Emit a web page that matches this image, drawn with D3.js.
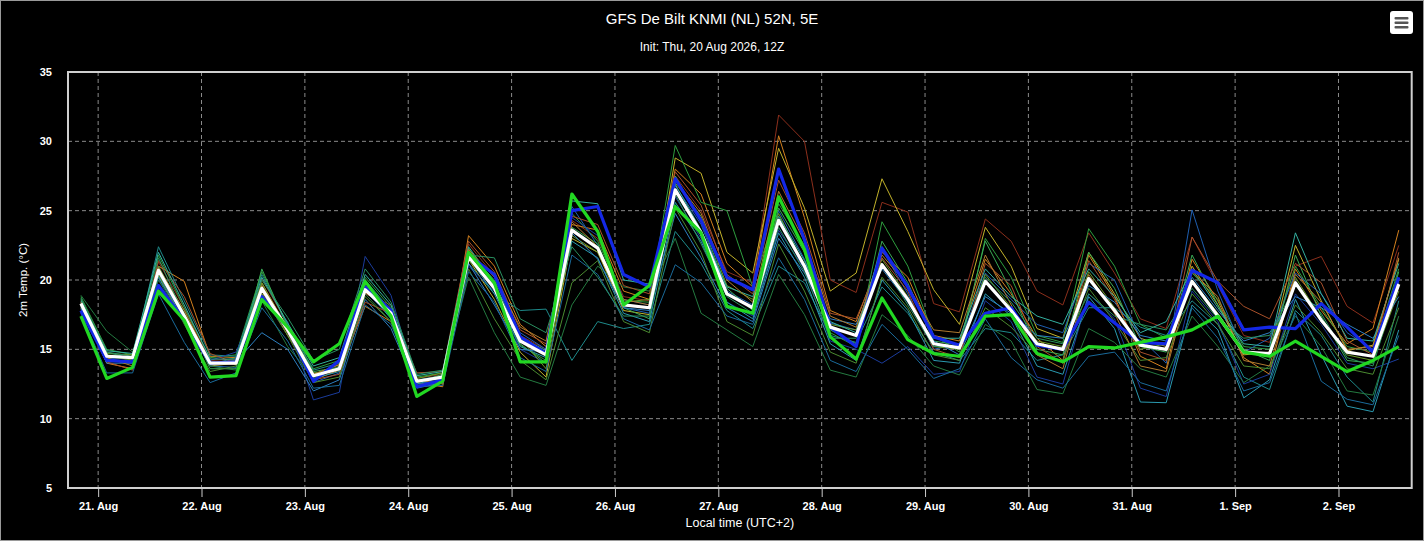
<!DOCTYPE html>
<html>
<head>
<meta charset="utf-8">
<script src="https://cdn.jsdelivr.net/npm/d3@7"></script>
<style>
    html, body { margin: 0; padding: 0; background: #000; }
    svg { display: block; }
</style>
</head>
<body>
<svg id="chart" width="1424" height="541"></svg>
<script>
// 6-hourly steps, first step = 20 Aug 20:00 local (UTC+2)
const firstStep = Date.UTC(2026, 7, 20, 20);
const stepCount = 52;

const yTicks = [5, 10, 15, 20, 25, 30, 35];

// ensemble mean
const meanSeries = [18.3,
    14.5, 14.4, 20.7, 17.4, 14.0, 14.0, 19.4, 16.4, 13.1, 13.6, 19.3, 17.6,
    12.7, 13.0, 21.7, 19.4, 15.6, 14.6, 23.6, 22.3, 18.2, 18.0, 26.5, 23.4,
    19.0, 18.0, 24.3, 21.0, 16.6, 16.0, 21.1, 18.6, 15.4, 15.1, 19.9, 17.8,
    15.4, 15.0, 20.1, 17.8, 15.3, 15.0, 19.9, 17.4, 14.8, 14.7, 19.8, 17.1,
    14.8, 14.5, 19.7];

// control run
const controlSeries = [17.8,
    14.2, 14.1, 19.6, 17.1, 14.0, 14.1, 18.8, 16.5, 12.7, 14.2, 19.5, 17.8,
    12.3, 12.8, 21.8, 20.4, 15.9, 14.7, 25.0, 25.3, 20.4, 19.5, 27.3, 24.3,
    20.2, 19.3, 28.0, 22.9, 16.6, 15.2, 22.3, 19.5, 15.9, 15.3, 17.6, 18.0,
    15.3, 15.0, 18.4, 16.9, 15.5, 15.4, 20.7, 19.8, 16.4, 16.6, 16.5, 18.3,
    16.6, 14.8, 20.2];

// operational run
const operSeries = [17.4,
    12.9, 13.7, 19.2, 17.1, 13.0, 13.1, 18.6, 16.6, 14.1, 15.4, 19.9, 17.4,
    11.6, 12.7, 22.0, 19.8, 14.1, 14.1, 26.2, 23.5, 18.2, 19.6, 25.3, 23.4,
    18.1, 17.6, 26.0, 22.2, 15.9, 14.3, 18.7, 15.7, 14.7, 14.5, 17.4, 17.5,
    14.7, 14.1, 15.2, 15.1, 15.5, 15.9, 16.4, 17.4, 14.8, 14.5, 15.6, 14.5,
    13.4, 14.2, 15.2];

const memberColors = ['#8c2f1c', '#d4801e', '#c2b22a', '#2e9e3e', '#1e8a8a', '#1f5fb0',
    '#1b3c9c', '#3aaa55', '#2a9ab0', '#6a9a2a', '#247a40', '#2d7fc0',
    '#a8502a', '#34b0a0', '#4a8a30', '#1a6a9a', '#b07a30', '#2a9060'];

const members = [
    [18.5, 14.2, 14.0, 21.3, 18.0, 14.2, 14.3, 20.1, 16.8, 13.0, 13.8, 19.0, 18.2, 12.9, 13.2, 22.6, 20.3, 16.0, 15.0, 24.3, 23.0, 18.8, 18.5, 27.5, 25.0, 20.6, 19.8, 31.9, 30.0, 20.0, 19.1, 25.6, 24.9, 18.3, 17.7, 24.4, 22.8, 19.2, 18.2, 23.4, 20.5, 17.2, 16.5, 23.1, 19.6, 16.0, 15.5, 21.0, 21.7, 18.1, 16.9, 22.5],
    [18.0, 14.0, 13.6, 21.0, 19.9, 14.5, 14.4, 19.8, 16.5, 12.8, 13.5, 18.1, 17.0, 12.6, 12.3, 23.2, 21.0, 16.8, 15.2, 24.0, 23.6, 19.2, 18.6, 28.0, 26.2, 21.2, 19.5, 30.4, 24.5, 17.8, 17.0, 22.0, 20.2, 16.0, 15.6, 21.5, 19.0, 15.8, 14.2, 21.8, 18.8, 14.5, 13.6, 21.5, 18.5, 14.4, 13.2, 20.8, 17.8, 15.4, 16.5, 23.6],
    [18.2, 14.6, 14.2, 20.3, 17.0, 13.8, 14.0, 19.2, 16.0, 13.2, 13.9, 19.6, 17.4, 12.8, 12.9, 21.5, 18.6, 14.8, 13.0, 23.0, 22.0, 17.8, 17.5, 28.8, 27.7, 22.0, 20.5, 29.5, 25.2, 19.2, 20.5, 27.3, 23.5, 19.3, 16.8, 23.8, 21.0, 16.5, 15.8, 22.0, 19.0, 15.8, 15.2, 21.0, 18.2, 14.6, 14.8, 22.5, 18.5, 14.9, 15.3, 21.5],
    [18.8, 15.0, 14.6, 21.8, 18.0, 14.4, 14.6, 20.6, 16.7, 13.6, 14.2, 20.2, 18.0, 13.0, 13.3, 22.3, 19.6, 15.3, 14.2, 24.8, 22.8, 18.5, 18.4, 29.7, 25.6, 25.0, 19.5, 25.5, 22.5, 16.2, 15.2, 24.2, 21.0, 16.0, 14.8, 23.0, 20.2, 16.0, 15.5, 23.7, 21.0, 16.8, 15.8, 20.5, 18.6, 15.2, 15.0, 21.0, 18.0, 15.2, 14.8, 20.8],
    [18.4, 14.8, 14.3, 22.4, 18.5, 14.6, 14.5, 20.4, 16.8, 13.5, 14.0, 20.0, 17.8, 12.8, 13.1, 21.2, 19.0, 17.8, 17.9, 14.2, 17.0, 16.5, 16.8, 23.5, 21.2, 17.8, 16.5, 21.0, 19.8, 16.0, 15.5, 19.5, 17.6, 14.8, 14.2, 16.5, 16.2, 14.2, 14.6, 18.0, 18.0, 16.6, 16.0, 18.5, 16.8, 13.0, 12.1, 17.8, 16.0, 13.0, 11.2, 18.5],
    [17.9, 14.3, 14.5, 20.5, 17.2, 13.8, 13.7, 19.5, 16.6, 12.6, 13.3, 19.2, 17.3, 12.5, 12.8, 22.0, 20.0, 16.2, 15.0, 25.3, 22.5, 18.0, 17.6, 26.8, 24.0, 19.2, 18.2, 25.0, 21.5, 16.9, 16.4, 22.2, 19.0, 15.0, 15.4, 20.5, 18.6, 16.8, 16.2, 21.2, 20.0, 15.8, 14.0, 25.05, 19.2, 14.8, 15.8, 20.5, 19.0, 16.2, 15.0, 19.8],
    [18.0, 14.4, 14.4, 20.0, 17.5, 14.2, 14.8, 19.0, 17.0, 11.35, 11.9, 21.7, 18.9, 12.4, 12.6, 21.0, 19.2, 15.0, 14.0, 24.5, 23.2, 18.6, 18.2, 26.0, 23.0, 18.4, 17.4, 23.6, 20.8, 15.6, 15.0, 14.0, 15.2, 13.2, 13.4, 18.5, 17.0, 13.0, 12.5, 19.0, 17.2, 12.2, 11.6, 19.2, 17.0, 12.5, 13.2, 19.0, 16.8, 14.0, 13.6, 14.3],
    [18.6, 14.6, 14.4, 21.0, 17.6, 13.6, 13.6, 20.8, 16.6, 13.4, 13.7, 19.8, 17.8, 12.6, 13.2, 22.0, 19.6, 15.4, 14.0, 23.8, 22.6, 18.0, 17.2, 27.5, 24.2, 19.4, 17.8, 25.2, 22.0, 16.4, 15.4, 22.8, 19.8, 15.6, 15.3, 22.8, 19.2, 15.0, 14.6, 22.0, 19.4, 15.2, 14.8, 21.8, 18.2, 15.0, 14.2, 21.8, 17.4, 14.2, 14.0, 20.6],
    [18.1, 14.3, 14.1, 20.2, 17.0, 13.9, 14.2, 19.6, 16.2, 12.9, 13.4, 19.4, 17.2, 12.5, 13.0, 21.6, 19.0, 15.2, 14.4, 22.8, 21.6, 17.6, 17.0, 25.6, 22.8, 18.4, 17.2, 23.4, 20.2, 15.4, 14.2, 20.0, 17.8, 14.2, 14.0, 19.0, 17.4, 13.8, 13.2, 18.8, 16.5, 11.2, 11.15, 18.2, 16.4, 11.5, 12.8, 18.6, 14.6, 10.9, 10.5, 16.4],
    [18.3, 14.7, 14.6, 20.8, 17.8, 14.0, 14.2, 19.8, 16.4, 13.3, 13.5, 19.2, 17.7, 12.9, 13.3, 21.4, 19.5, 15.8, 13.6, 23.2, 22.0, 18.4, 18.6, 27.0, 24.6, 19.6, 18.6, 24.8, 21.0, 16.8, 16.4, 21.5, 18.8, 15.2, 15.0, 20.4, 18.0, 15.6, 15.2, 20.6, 18.0, 15.0, 15.4, 20.0, 17.6, 14.9, 14.5, 20.2, 17.2, 14.6, 14.2, 19.2],
    [18.9, 16.3, 14.8, 20.0, 17.0, 13.8, 13.5, 18.5, 15.2, 12.9, 13.8, 19.0, 17.0, 12.7, 13.1, 20.2, 16.2, 13.0, 12.4, 18.2, 21.0, 19.5, 19.2, 23.0, 17.6, 16.4, 15.2, 20.4, 17.5, 13.5, 13.0, 17.5, 16.0, 13.8, 13.15, 16.8, 15.6, 12.1, 11.8, 16.5, 15.5, 13.6, 13.0, 17.4, 15.2, 12.6, 13.8, 17.4, 15.2, 12.0, 11.7, 17.4],
    [18.0, 14.0, 14.0, 20.4, 17.0, 14.0, 14.1, 16.2, 15.0, 12.0, 12.8, 18.6, 16.5, 12.2, 12.6, 21.2, 18.2, 15.0, 14.8, 23.4, 21.5, 18.0, 17.8, 24.8, 21.6, 18.0, 17.0, 23.0, 20.5, 17.2, 16.8, 20.8, 18.4, 15.6, 14.6, 18.8, 17.6, 16.0, 15.8, 19.6, 18.4, 16.0, 15.6, 20.2, 17.8, 15.6, 16.2, 18.8, 18.0, 16.8, 15.8, 18.8],
    [18.2, 14.1, 13.5, 21.4, 18.8, 14.7, 14.0, 19.0, 16.2, 12.8, 13.2, 18.4, 17.6, 13.3, 13.4, 22.8, 20.6, 16.4, 15.4, 24.6, 24.0, 19.6, 19.0, 27.8, 25.4, 20.4, 19.0, 27.2, 23.4, 17.6, 17.2, 21.6, 19.2, 15.0, 14.4, 21.2, 19.6, 15.2, 14.0, 21.4, 18.6, 14.8, 14.2, 23.1, 19.9, 18.1, 17.2, 21.2, 19.8, 15.6, 14.6, 22.0],
    [18.5, 14.9, 14.7, 22.0, 18.2, 14.3, 14.3, 20.2, 16.9, 13.8, 14.4, 20.4, 18.2, 13.1, 13.4, 22.4, 19.8, 15.9, 14.9, 25.7, 25.5, 20.0, 19.7, 26.9, 23.6, 19.5, 18.8, 24.6, 21.4, 17.0, 16.2, 22.4, 19.4, 15.8, 15.8, 20.8, 18.8, 17.4, 16.8, 20.8, 18.8, 16.2, 17.0, 20.8, 18.0, 15.4, 15.2, 23.4, 19.0, 15.8, 15.6, 21.2],
    [18.1, 14.5, 14.2, 20.4, 16.8, 13.4, 13.8, 19.0, 16.0, 12.6, 13.0, 18.8, 17.0, 12.4, 12.7, 20.8, 17.2, 14.2, 12.8, 19.8, 21.4, 17.0, 16.2, 25.2, 22.0, 17.0, 16.0, 22.6, 19.2, 14.8, 14.0, 20.2, 18.0, 14.6, 14.2, 18.0, 16.6, 14.6, 14.2, 19.4, 17.0, 14.2, 14.4, 19.0, 16.8, 13.8, 13.6, 18.2, 16.2, 13.6, 13.2, 18.0],
    [17.6, 13.3, 13.3, 19.0, 15.5, 12.6, 13.3, 18.0, 15.6, 12.2, 12.4, 18.2, 16.8, 12.3, 12.4, 20.6, 18.4, 14.4, 13.4, 21.8, 20.4, 17.2, 16.4, 21.1, 19.8, 17.4, 16.8, 21.6, 18.6, 14.2, 13.4, 16.8, 15.0, 12.9, 13.6, 17.2, 14.4, 12.8, 12.2, 14.5, 14.8, 12.6, 12.0, 18.0, 15.8, 12.0, 12.6, 17.6, 12.7, 11.4, 11.0, 16.0],
    [18.4, 14.4, 13.8, 20.9, 17.8, 14.1, 13.9, 19.6, 16.6, 13.2, 13.9, 19.1, 17.9, 12.8, 12.5, 22.2, 20.2, 16.6, 15.6, 24.2, 22.4, 18.6, 18.2, 27.2, 24.8, 20.0, 18.4, 26.4, 22.8, 17.4, 16.6, 21.8, 19.6, 16.4, 16.2, 21.8, 18.2, 14.6, 13.6, 20.4, 17.6, 13.8, 13.4, 20.6, 18.8, 14.2, 13.8, 20.4, 18.4, 15.0, 15.2, 21.6],
    [18.7, 14.8, 14.5, 21.6, 17.4, 13.9, 14.4, 20.0, 17.3, 14.2, 15.0, 20.8, 18.4, 13.2, 13.5, 21.8, 21.6, 17.2, 16.2, 22.4, 20.2, 17.4, 17.4, 26.2, 22.6, 18.8, 17.6, 23.8, 20.6, 15.8, 15.8, 21.2, 18.2, 15.2, 15.2, 20.2, 18.4, 15.8, 15.4, 19.0, 17.4, 16.8, 16.4, 19.4, 17.2, 15.8, 16.0, 19.6, 17.6, 14.4, 13.8, 20.0]
];

const W = 1424, H = 541;
const plot = { left: 68, top: 72, right: 1411.7, bottom: 488 };

const times = d3.range(stepCount).map(i => new Date(firstStep + i * 6 * 3600 * 1000));

const x = d3.scaleUtc()
    .domain([new Date(Date.UTC(2026, 7, 20, 17)), new Date(Date.UTC(2026, 8, 2, 17))])
    .range([plot.left, plot.right]);

const y = d3.scaleLinear()
    .domain([5, 35])
    .range([plot.bottom, plot.top]);

const svg = d3.select('#chart');
const font = "'Liberation Sans', Arial, sans-serif";

svg.append('rect')
    .attr('x', 0.5).attr('y', 0.5)
    .attr('width', W - 1).attr('height', H - 1)
    .attr('fill', '#000')
    .attr('stroke', '#9a9a9a');

// titles
svg.append('text')
    .attr('x', W / 2).attr('y', 24)
    .attr('text-anchor', 'middle')
    .attr('fill', '#fff')
    .style('font', '15px ' + font)
    .text('GFS De Bilt KNMI (NL) 52N, 5E');

svg.append('text')
    .attr('x', W / 2).attr('y', 51)
    .attr('text-anchor', 'middle')
    .attr('fill', '#fff')
    .style('font', '12px ' + font)
    .text('Init: Thu, 20 Aug 2026, 12Z');

// grid
const dayTicks = x.ticks(d3.utcDay.every(1));

svg.append('g')
    .selectAll('line')
    .data(yTicks)
    .enter()
    .append('line')
    .attr('x1', plot.left).attr('x2', plot.right)
    .attr('y1', d => y(d)).attr('y2', d => y(d))
    .attr('stroke', '#8a8a8a')
    .attr('stroke-dasharray', '4,3');

svg.append('g')
    .selectAll('line')
    .data(dayTicks)
    .enter()
    .append('line')
    .attr('x1', d => x(d)).attr('x2', d => x(d))
    .attr('y1', plot.top).attr('y2', plot.bottom)
    .attr('stroke', '#8a8a8a')
    .attr('stroke-dasharray', '4,3');

// x axis
let xAxis = svg.append('g')
    .attr('transform', 'translate(0,' + plot.bottom + ')')
    .call(d3.axisBottom(x)
        .tickValues(dayTicks)
        .tickFormat(d3.utcFormat('%-d. %b'))
        .tickSize(9)
        .tickPadding(5));
xAxis.select('.domain').remove();
xAxis.selectAll('line').attr('stroke', '#ccc');
xAxis.selectAll('text')
    .attr('fill', '#fff')
    .style('font', 'bold 11px ' + font);

// y axis
let yAxis = svg.append('g')
    .attr('transform', 'translate(' + (plot.left - 16) + ',0)')
    .call(d3.axisLeft(y)
        .tickValues(yTicks)
        .tickSize(0)
        .tickPadding(0));
yAxis.select('.domain').remove();
yAxis.selectAll('text')
    .attr('fill', '#fff')
    .style('font', 'bold 11px ' + font);

svg.append('text')
    .attr('transform', 'translate(27,' + ((plot.top + plot.bottom) / 2) + ') rotate(-90)')
    .attr('text-anchor', 'middle')
    .attr('fill', '#fff')
    .style('font', '11.5px ' + font)
    .text('2m Temp. (°C)');

svg.append('text')
    .attr('x', (plot.left + plot.right) / 2).attr('y', 527)
    .attr('text-anchor', 'middle')
    .attr('fill', '#fff')
    .style('font', '12.5px ' + font)
    .text('Local time (UTC+2)');

// lines
const line = d3.line()
    .x((d, i) => x(times[i]))
    .y(d => y(d));

svg.append('g')
    .selectAll('path')
    .data(members)
    .enter()
    .append('path')
    .attr('d', d => line(d))
    .attr('fill', 'none')
    .attr('stroke', (d, i) => memberColors[i])
    .attr('stroke-width', 1)
    .attr('stroke-linejoin', 'round');

const mainLines = [
    { values: controlSeries, color: '#1428e6', width: 3.2 },
    { values: meanSeries, color: '#ffffff', width: 3.2 },
    { values: operSeries, color: '#22d822', width: 3.2 },
];

svg.append('g')
    .selectAll('path')
    .data(mainLines)
    .enter()
    .append('path')
    .attr('d', d => line(d.values))
    .attr('fill', 'none')
    .attr('stroke', d => d.color)
    .attr('stroke-width', d => d.width)
    .attr('stroke-linejoin', 'round');

// plot border
svg.append('rect')
    .attr('x', plot.left).attr('y', plot.top)
    .attr('width', plot.right - plot.left)
    .attr('height', plot.bottom - plot.top)
    .attr('fill', 'none')
    .attr('stroke', '#cfcfcf')
    .attr('stroke-width', 2);

// menu button
let menu = svg.append('g').attr('transform', 'translate(1390,11)');
menu.append('rect')
    .attr('width', 23).attr('height', 23)
    .attr('rx', 3)
    .attr('fill', '#fff');
menu.selectAll('.bar')
    .data([6, 10.5, 15])
    .enter()
    .append('rect')
    .attr('class', 'bar')
    .attr('x', 4.5).attr('y', d => d)
    .attr('width', 14).attr('height', 2.6)
    .attr('rx', 1)
    .attr('fill', '#555');
</script>
</body>
</html>
